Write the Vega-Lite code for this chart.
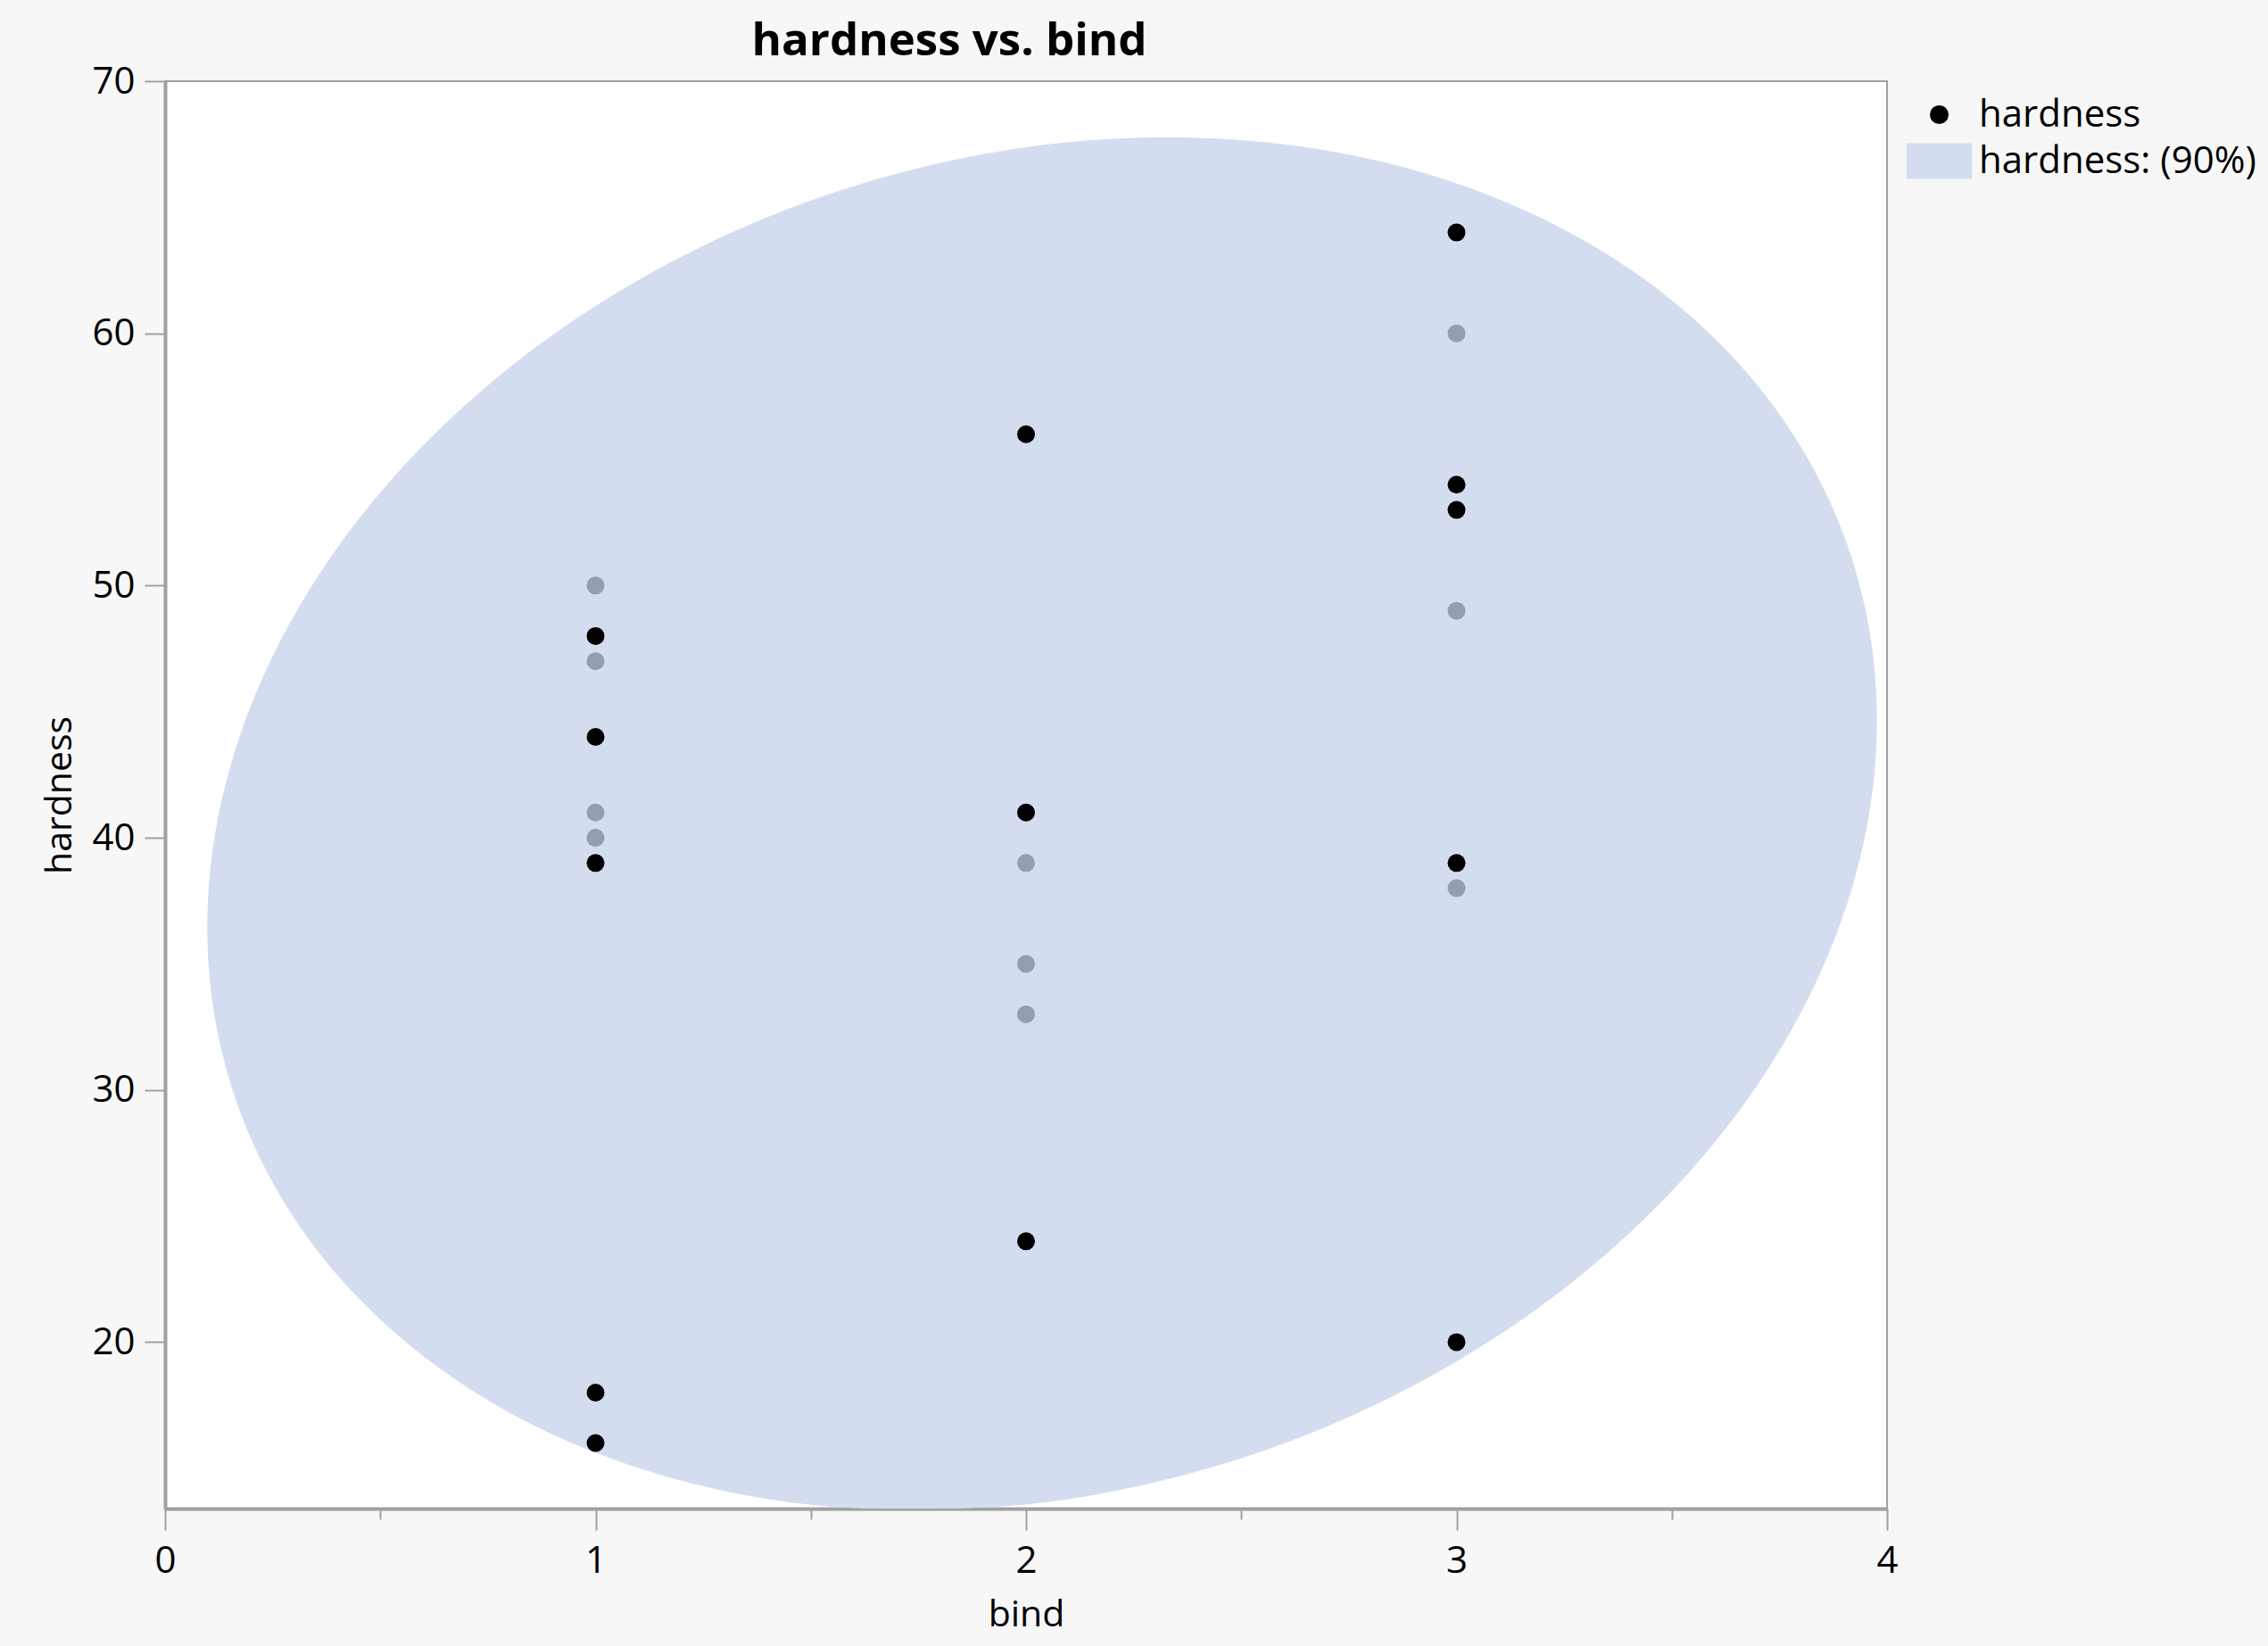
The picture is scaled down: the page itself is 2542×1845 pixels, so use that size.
{
  "$schema": "https://vega.github.io/schema/vega-lite/v6.json",
  "width": 1930,
  "height": 1600,
  "autosize": {"type": "none"},
  "padding": {"left": 185, "top": 91, "right": 427, "bottom": 154},
  "background": "#f7f7f7",
  "title": {
    "text": "hardness vs. bind",
    "font": "Open Sans",
    "fontSize": 51,
    "fontWeight": "bold",
    "color": "#000000",
    "anchor": "middle",
    "baseline": "alphabetic",
    "offset": 28,
    "dx": -86,
    "dy": 71
  },
  "config": {
    "font": "Open Sans",
    "view": {"fill": "#ffffff", "stroke": "#a0a0a0", "strokeWidth": 2}
  },
  "datasets": {
    "ellipse": [
      {"i": 1, "bind": 3.9110, "hardness": 51.40},
      {"i": 2, "bind": 3.9597, "hardness": 48.05},
      {"i": 3, "bind": 3.9755, "hardness": 44.57},
      {"i": 4, "bind": 3.9581, "hardness": 41.02},
      {"i": 5, "bind": 3.9078, "hardness": 37.47},
      {"i": 6, "bind": 3.8256, "hardness": 33.97},
      {"i": 7, "bind": 3.7127, "hardness": 30.58},
      {"i": 8, "bind": 3.5712, "hardness": 27.36},
      {"i": 9, "bind": 3.4034, "hardness": 24.37},
      {"i": 10, "bind": 3.2123, "hardness": 21.65},
      {"i": 11, "bind": 3.0010, "hardness": 19.26},
      {"i": 12, "bind": 2.7733, "hardness": 17.23},
      {"i": 13, "bind": 2.5330, "hardness": 15.60},
      {"i": 14, "bind": 2.2841, "hardness": 14.40},
      {"i": 15, "bind": 2.0311, "hardness": 13.64},
      {"i": 16, "bind": 1.7782, "hardness": 13.40},
      {"i": 17, "bind": 1.5297, "hardness": 13.52},
      {"i": 18, "bind": 1.2899, "hardness": 14.15},
      {"i": 19, "bind": 1.0628, "hardness": 15.24},
      {"i": 20, "bind": 0.8525, "hardness": 16.75},
      {"i": 21, "bind": 0.6624, "hardness": 18.68},
      {"i": 22, "bind": 0.4959, "hardness": 20.98},
      {"i": 23, "bind": 0.3557, "hardness": 23.61},
      {"i": 24, "bind": 0.2443, "hardness": 26.54},
      {"i": 25, "bind": 0.1636, "hardness": 29.70},
      {"i": 26, "bind": 0.1149, "hardness": 33.05},
      {"i": 27, "bind": 0.0991, "hardness": 36.53},
      {"i": 28, "bind": 0.1165, "hardness": 40.08},
      {"i": 29, "bind": 0.1668, "hardness": 43.63},
      {"i": 30, "bind": 0.2490, "hardness": 47.13},
      {"i": 31, "bind": 0.3619, "hardness": 50.52},
      {"i": 32, "bind": 0.5034, "hardness": 53.74},
      {"i": 33, "bind": 0.6712, "hardness": 56.73},
      {"i": 34, "bind": 0.8623, "hardness": 59.45},
      {"i": 35, "bind": 1.0736, "hardness": 61.84},
      {"i": 36, "bind": 1.3013, "hardness": 63.87},
      {"i": 37, "bind": 1.5417, "hardness": 65.50},
      {"i": 38, "bind": 1.7905, "hardness": 66.70},
      {"i": 39, "bind": 2.0435, "hardness": 67.46},
      {"i": 40, "bind": 2.2964, "hardness": 67.75},
      {"i": 41, "bind": 2.5449, "hardness": 67.58},
      {"i": 42, "bind": 2.7847, "hardness": 66.95},
      {"i": 43, "bind": 3.0118, "hardness": 65.86},
      {"i": 44, "bind": 3.2221, "hardness": 64.34},
      {"i": 45, "bind": 3.4122, "hardness": 62.42},
      {"i": 46, "bind": 3.5787, "hardness": 60.12},
      {"i": 47, "bind": 3.7189, "hardness": 57.49},
      {"i": 48, "bind": 3.8303, "hardness": 54.56}
    ],
    "points": [
      {"bind": 1, "hardness": 50, "series": "hardness", "state": "dim"},
      {"bind": 1, "hardness": 48, "series": "hardness", "state": "on"},
      {"bind": 1, "hardness": 47, "series": "hardness", "state": "dim"},
      {"bind": 1, "hardness": 44, "series": "hardness", "state": "on"},
      {"bind": 1, "hardness": 41, "series": "hardness", "state": "dim"},
      {"bind": 1, "hardness": 40, "series": "hardness", "state": "dim"},
      {"bind": 1, "hardness": 39, "series": "hardness", "state": "on"},
      {"bind": 1, "hardness": 18, "series": "hardness", "state": "on"},
      {"bind": 1, "hardness": 16, "series": "hardness", "state": "on"},
      {"bind": 2, "hardness": 56, "series": "hardness", "state": "on"},
      {"bind": 2, "hardness": 41, "series": "hardness", "state": "on"},
      {"bind": 2, "hardness": 39, "series": "hardness", "state": "dim"},
      {"bind": 2, "hardness": 35, "series": "hardness", "state": "dim"},
      {"bind": 2, "hardness": 33, "series": "hardness", "state": "dim"},
      {"bind": 2, "hardness": 24, "series": "hardness", "state": "on"},
      {"bind": 3, "hardness": 64, "series": "hardness", "state": "on"},
      {"bind": 3, "hardness": 60, "series": "hardness", "state": "dim"},
      {"bind": 3, "hardness": 54, "series": "hardness", "state": "on"},
      {"bind": 3, "hardness": 53, "series": "hardness", "state": "on"},
      {"bind": 3, "hardness": 49, "series": "hardness", "state": "dim"},
      {"bind": 3, "hardness": 39, "series": "hardness", "state": "on"},
      {"bind": 3, "hardness": 38, "series": "hardness", "state": "dim"},
      {"bind": 3, "hardness": 20, "series": "hardness", "state": "on"}
    ]
  },
  "layer": [
    {
      "data": {"name": "ellipse"},
      "mark": {"type": "line", "fill": "#d4ddef", "stroke": "#d4ddef", "strokeWidth": 1, "interpolate": "cardinal-closed", "clip": true},
      "encoding": {
        "x": {
          "field": "bind",
          "type": "quantitative",
          "scale": {"domain": [0, 4], "nice": false, "zero": false},
          "axis": {
            "title": "bind",
            "values": [0, 0.5, 1, 1.5, 2, 2.5, 3, 3.5, 4],
            "labelExpr": "datum.value % 1 === 0 ? '' + datum.value : ''",
            "tickSize": {"condition": {"test": "datum.value % 1 === 0", "value": 24}, "value": 12},
            "tickColor": "#a0a0a0",
            "tickWidth": 2,
            "domainColor": "#a0a0a0",
            "domainWidth": 4,
            "grid": false,
            "labelFont": "Open Sans",
            "labelFontSize": 42,
            "labelColor": "#000000",
            "labelPadding": 14,
            "labelFlush": false,
            "labelBound": false,
            "labelOverlap": false,
            "titleFont": "Open Sans",
            "titleFontSize": 41,
            "titleFontWeight": "normal",
            "titleColor": "#000000",
            "titleBaseline": "alphabetic",
            "titleX": 965,
            "titleY": 131
          }
        },
        "y": {
          "field": "hardness",
          "type": "quantitative",
          "scale": {"domain": [13.4, 70], "nice": false, "zero": false},
          "axis": {
            "title": "hardness",
            "values": [20, 30, 40, 50, 60, 70],
            "tickSize": 23,
            "tickColor": "#a0a0a0",
            "tickWidth": 2,
            "domainColor": "#a0a0a0",
            "domainWidth": 4,
            "grid": false,
            "labelFont": "Open Sans",
            "labelFontSize": 42,
            "labelColor": "#000000",
            "labelPadding": 11,
            "labelFlush": false,
            "labelBound": false,
            "labelOverlap": false,
            "titleFont": "Open Sans",
            "titleFontSize": 41,
            "titleFontWeight": "normal",
            "titleColor": "#000000",
            "titleAngle": 270,
            "titleAlign": "center",
            "titleBaseline": "alphabetic",
            "titleX": -106,
            "titleY": 800
          }
        },
        "order": {"field": "i", "type": "quantitative"}
      }
    },
    {
      "data": {"name": "points"},
      "mark": {"type": "point", "filled": true, "size": 400, "strokeWidth": 0, "opacity": 1},
      "encoding": {
        "x": {"field": "bind", "type": "quantitative"},
        "y": {"field": "hardness", "type": "quantitative"},
        "color": {
          "condition": {"test": "datum.state === 'dim'", "value": "#949eb0"},
          "field": "series",
          "type": "nominal",
          "scale": {"domain": ["hardness", "hardness: (90%)"], "range": ["#000000", "#d4ddef"]},
          "legend": {
            "title": null,
            "orient": "none",
            "legendX": 1967.5,
            "legendY": 16.5,
            "padding": 0,
            "symbolSize": 441,
            "symbolStrokeWidth": 0,
            "labelFont": "Open Sans",
            "labelFontSize": 42,
            "labelColor": "#000000",
            "labelOffset": 23.5,
            "rowPadding": 10,
            "labelLimit": 600
          }
        },
        "shape": {
          "field": "series",
          "type": "nominal",
          "scale": {"domain": ["hardness", "hardness: (90%)"], "range": ["circle", "M-3.5,-1.9L3.5,-1.9L3.5,1.9L-3.5,1.9Z"]},
          "legend": {
            "title": null,
            "orient": "none",
            "legendX": 1967.5,
            "legendY": 16.5,
            "padding": 0,
            "symbolSize": 441,
            "symbolStrokeWidth": 0,
            "labelFont": "Open Sans",
            "labelFontSize": 42,
            "labelColor": "#000000",
            "labelOffset": 23.5,
            "rowPadding": 10,
            "labelLimit": 600
          }
        }
      }
    }
  ]
}
